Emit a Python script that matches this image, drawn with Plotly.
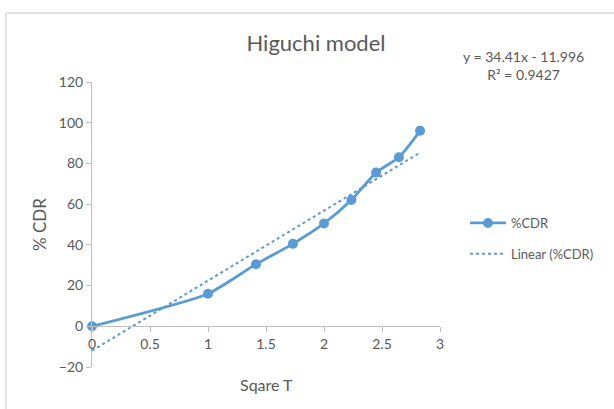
import plotly.graph_objects as go

# Data
sqrt_t = [0, 1, 1.414, 1.732, 2, 2.236, 2.449, 2.646, 2.828]
cdr = [0, 16, 30.5, 40.5, 50.5, 62, 75.5, 83, 96]
trend_slope = 34.41
trend_intercept = -11.996
r_squared = 0.9427
x_ticks = [0, 0.5, 1, 1.5, 2, 2.5, 3]
y_ticks = [-20, 0, 20, 40, 60, 80, 100, 120]

blue = "#5B9BD5"
gray_txt = "#595959"
axis_col = "#BFBFBF"
font_fam = "Lato, 'Open Sans', sans-serif"

W, H = 614, 409
L, T = 92, 82          # plot area left/top (px)
PW, PH = 348, 285      # plot area width/height


def px(xf):
    return (xf - L) / PW


def py(yf):
    return 1 - (yf - T) / PH


trend_x = [min(sqrt_t), max(sqrt_t)]
trend_y = [trend_slope * v + trend_intercept for v in trend_x]

fig = go.Figure()
fig.add_trace(go.Scatter(
    x=sqrt_t, y=cdr, mode="lines+markers", name="%CDR", legendgroup="a",
    line=dict(color=blue, width=2.8, shape="spline", smoothing=0.6),
    marker=dict(color=blue, size=10), cliponaxis=False,
))
fig.add_trace(go.Scatter(
    x=trend_x, y=trend_y, mode="lines", name="Linear (%CDR)", legendgroup="b",
    line=dict(color=blue, width=2, dash="dot"), cliponaxis=False,
))

fig.update_layout(
    width=W, height=H,
    margin=dict(l=L, r=W - L - PW, t=T, b=H - T - PH),
    paper_bgcolor="white", plot_bgcolor="white",
    font=dict(family=font_fam, color=gray_txt, size=14),
    title=dict(text="Higuchi model", x=316 / W, xanchor="center",
               y=1 - 43 / H, yanchor="middle",
               font=dict(size=22, color=gray_txt, family=font_fam)),
    showlegend=True,
    legend=dict(x=px(465), y=py(208), xanchor="left", yanchor="top",
                bgcolor="rgba(0,0,0,0)", itemwidth=36,
                font=dict(size=13, color=gray_txt, family=font_fam),
                tracegroupgap=11),
    xaxis=dict(range=[0, 3], tickvals=x_ticks, ticktext=[str(v) for v in x_ticks],
               showgrid=False, zeroline=False, showline=True, linecolor=axis_col,
               linewidth=1, ticks="outside", ticklen=5, tickcolor=axis_col,
               anchor="free", position=20 / 140,
               tickfont=dict(size=14, color=gray_txt)),
    yaxis=dict(range=[-20, 120], tickvals=y_ticks, showgrid=False, zeroline=False,
               showline=True, linecolor=axis_col, linewidth=1, ticks="outside",
               ticklen=5, tickcolor=axis_col, tickfont=dict(size=14, color=gray_txt)),
)

fig.add_annotation(text="Sqare T", xref="paper", yref="paper",
                   x=px(266), y=py(384), showarrow=False,
                   xanchor="center", yanchor="middle",
                   font=dict(size=16, color=gray_txt))
fig.add_annotation(text="% CDR", xref="paper", yref="paper",
                   x=px(39), y=py(225), showarrow=False, textangle=-90,
                   xanchor="center", yanchor="middle",
                   font=dict(size=17, color=gray_txt))
fig.add_annotation(text=f"y = {trend_slope}x - {abs(trend_intercept)}<br>R² = {r_squared}",
                   xref="paper", yref="paper",
                   x=px(523), y=py(65), showarrow=False,
                   xanchor="center", yanchor="middle", align="center",
                   font=dict(size=14, color=gray_txt))

# outer chart frame (top and left edges visible)
frame_top = py(13)
frame_left = px(6)
fig.add_shape(type="line", xref="paper", yref="paper",
              x0=frame_left, x1=px(W + 20), y0=frame_top, y1=frame_top,
              line=dict(color="#D9D9D9", width=1.5))
fig.add_shape(type="line", xref="paper", yref="paper",
              x0=frame_left, x1=frame_left, y0=frame_top, y1=py(H + 20),
              line=dict(color="#D9D9D9", width=1.5))

fig.write_html(
    "out.html",
    config={"displayModeBar": False},
    post_script="document.body.style.margin='0';document.body.style.overflow='hidden';",
)
